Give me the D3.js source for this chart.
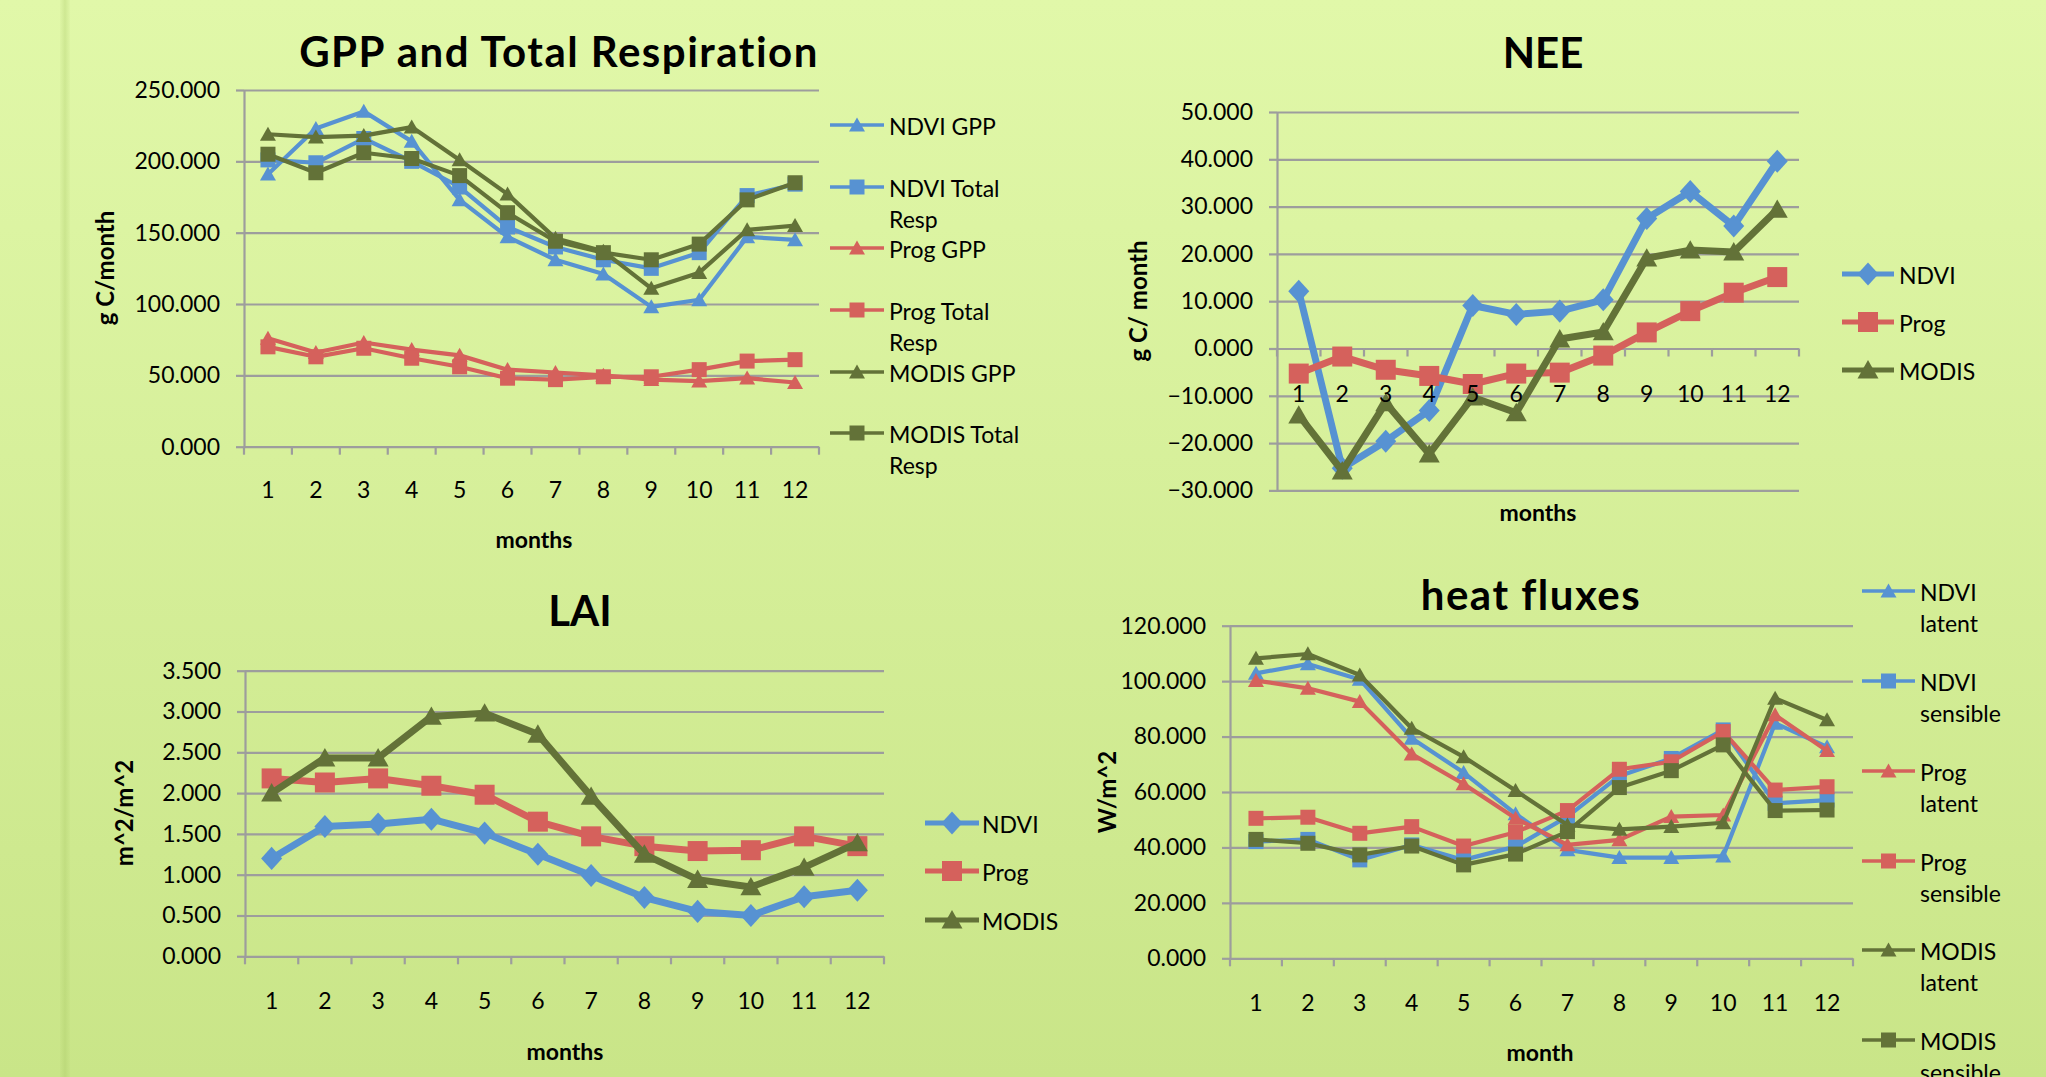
<!DOCTYPE html>
<html><head><meta charset="utf-8">
<script src="https://cdn.jsdelivr.net/npm/d3@7"></script>
<style>html,body{margin:0;padding:0;overflow:hidden;background:#d8f09c}</style>
</head><body><svg id="c" width="2046" height="1077"></svg>
<script>
// ---------------- DATA ----------------
const months = ["1","2","3","4","5","6","7","8","9","10","11","12"];

// GPP and Total Respiration (g C/month)
const gppNames = ["NDVI GPP","NDVI Total Resp","Prog GPP","Prog Total Resp","MODIS GPP","MODIS Total Resp"];
const ndviGpp   = [191, 223, 235, 214, 173, 147, 131, 121, 98, 103, 147, 145];
const ndviResp  = [201, 199, 216, 200, 182, 154, 140, 131, 125, 136, 176, 184];
const progGpp   = [76, 66, 73, 68, 64, 54, 52, 50, 47, 46, 48, 45];
const progResp  = [70, 63, 69, 62, 56, 48, 47, 49, 49, 54, 60, 61];
const modisGpp  = [219, 217, 218, 224, 201, 177, 146, 137, 111, 122, 152, 155];
const modisResp = [205, 192, 206, 202, 190, 164, 144, 136, 131, 142, 173, 185];
const gppTicks  = [0, 50, 100, 150, 200, 250];

// NEE (g C/ month)
const neeNames = ["NDVI","Prog","MODIS"];
const neeNdvi  = [12.1, -25.3, -19.6, -13.1, 9.1, 7.2, 7.9, 10.3, 27.5, 33.2, 25.9, 39.6];
const neeProg  = [-5.3, -1.7, -4.5, -5.8, -7.5, -5.3, -5.1, -1.5, 3.4, 7.9, 11.8, 15.1];
const neeModis = [-14.1, -25.9, -11.5, -22.3, -10.3, -13.6, 2.0, 3.5, 19.1, 20.8, 20.4, 29.4];
const neeTicks = [-30, -20, -10, 0, 10, 20, 30, 40, 50];

// LAI (m^2/m^2)
const laiNames = ["NDVI","Prog","MODIS"];
const laiNdvi  = [1.20, 1.59, 1.62, 1.68, 1.51, 1.25, 0.99, 0.72, 0.55, 0.50, 0.73, 0.81];
const laiProg  = [2.18, 2.13, 2.18, 2.09, 1.98, 1.65, 1.47, 1.35, 1.29, 1.30, 1.47, 1.35];
const laiModis = [2.00, 2.43, 2.43, 2.94, 2.98, 2.72, 1.96, 1.25, 0.94, 0.85, 1.09, 1.39];
const laiTicks = [0, 0.5, 1.0, 1.5, 2.0, 2.5, 3.0, 3.5];

// heat fluxes (W/m^2)
const heatNames = ["NDVI latent","NDVI sensible","Prog latent","Prog sensible","MODIS latent","MODIS sensible"];
const ndviLatent    = [102.8, 106.2, 100.6, 79.4, 67.0, 52.1, 39.1, 36.3, 36.3, 36.9, 84.8, 76.3];
const ndviSensible  = [42.1, 42.9, 35.5, 40.9, 35.5, 40.3, 51.1, 65.8, 72.1, 82.4, 55.9, 57.1];
const progLatent    = [100.2, 97.4, 92.6, 73.7, 62.9, 50.5, 40.9, 42.7, 51.1, 51.7, 87.8, 74.9];
const progSensible  = [50.5, 50.9, 45.1, 47.5, 40.5, 45.5, 53.3, 68.2, 70.9, 81.8, 60.7, 61.9];
const modisLatent   = [108.2, 109.8, 102.2, 83.0, 72.7, 60.5, 48.1, 46.5, 47.5, 48.9, 93.8, 86.0];
const modisSensible = [42.9, 41.5, 37.3, 40.5, 33.7, 37.6, 45.7, 61.6, 67.7, 77.0, 53.3, 53.5];
const heatTicks = [0, 20, 40, 60, 80, 100, 120];

// ---------------- STYLE ----------------
const W = 2046, H = 1077;
const BLUE = "#5792d2", RED = "#d5615c", GREEN = "#637238", GRID = "#9d9d9d";
const FONT = "Lato, 'Open Sans', sans-serif";

const svg = d3.select("#c");
const defs = svg.append("defs");
const bg = defs.append("linearGradient").attr("id","bg").attr("x1",0).attr("y1",0).attr("x2",0).attr("y2",1);
bg.append("stop").attr("offset","0%").attr("stop-color","#e1f8a9");
bg.append("stop").attr("offset","100%").attr("stop-color","#c9e588");
svg.append("rect").attr("width",W).attr("height",H).attr("fill","url(#bg)");
const st = defs.append("linearGradient").attr("id","st").attr("x1",0).attr("y1",0).attr("x2",1).attr("y2",0);
st.append("stop").attr("offset","0%").attr("stop-color","#9fbf5a").attr("stop-opacity",0.05);
st.append("stop").attr("offset","50%").attr("stop-color","#9fbf5a").attr("stop-opacity",0.28);
st.append("stop").attr("offset","100%").attr("stop-color","#9fbf5a").attr("stop-opacity",0.05);
svg.append("rect").attr("x",60).attr("y",0).attr("width",10).attr("height",H).attr("fill","url(#st)");

// marker symbol types (size = full width in px)
const symTypes = {
  triangle: {draw(ctx, s){ const h=s/2; ctx.moveTo(0,-h*0.95); ctx.lineTo(h,h*0.8); ctx.lineTo(-h,h*0.8); ctx.closePath(); }},
  square:   {draw(ctx, s){ const h=s/2; ctx.moveTo(-h,-h); ctx.lineTo(h,-h); ctx.lineTo(h,h); ctx.lineTo(-h,h); ctx.closePath(); }},
  diamond:  {draw(ctx, s){ const h=s/2; ctx.moveTo(0,-h*1.1); ctx.lineTo(h,0); ctx.lineTo(0,h*1.1); ctx.lineTo(-h,0); ctx.closePath(); }}
};

function drawChart(cfg){
  const g = svg.append("g");
  const x = d3.scaleBand().domain(months).range([cfg.x0, cfg.x1]).padding(0);
  const y = d3.scaleLinear().domain([cfg.ticks[0], cfg.ticks[cfg.ticks.length-1]]).range([cfg.yb, cfg.yt]);
  const cx = d => x(d) + x.bandwidth()/2;

  // gridlines
  g.append("g").attr("transform",`translate(${cfg.x0},0)`)
    .call(d3.axisLeft(y).tickValues(cfg.ticks).tickSize(-(cfg.x1-cfg.x0)).tickFormat(""))
    .call(s => s.select(".domain").remove())
    .selectAll("line").attr("stroke",GRID).attr("stroke-width",2.2);

  // y axis
  const ya = g.append("g").attr("transform",`translate(${cfg.x0},0)`)
    .call(d3.axisLeft(y).tickValues(cfg.ticks).tickSize(8).tickSizeOuter(0).tickPadding(16).tickFormat(d3.format(".3f")));
  ya.select(".domain").attr("stroke",GRID).attr("stroke-width",2.2);
  ya.selectAll(".tick line").attr("stroke",GRID).attr("stroke-width",2.2);
  ya.selectAll("text").attr("font-family",FONT).attr("font-size",23).attr("fill","#000");

  // category boundary ticks on the zero line
  const y0 = y(0);
  const bounds = months.map(m => x(m)).concat([x(months[months.length-1]) + x.bandwidth()]);
  g.append("g").selectAll("line").data(bounds).join("line")
    .attr("x1",d=>d).attr("x2",d=>d).attr("y1",y0).attr("y2",y0+8)
    .attr("stroke",GRID).attr("stroke-width",2.2);

  // series
  cfg.series.forEach(s => {
    const line = d3.line().x((d,i)=>cx(months[i])).y(d=>y(d));
    g.append("path").datum(s.values).attr("d",line).attr("fill","none")
      .attr("stroke",s.color).attr("stroke-width",cfg.lw).attr("stroke-linejoin","round");
    const sym = d3.symbol().type(symTypes[s.shape]).size(cfg.ms[s.shape]);
    g.append("g").selectAll("path").data(s.values).join("path")
      .attr("d",sym).attr("fill",s.color)
      .attr("transform",(d,i)=>`translate(${cx(months[i])},${y(d)})`);
  });

  // x labels
  const xa = g.append("g").attr("transform",`translate(0,${y0})`)
    .call(d3.axisBottom(x).tickSize(0).tickPadding(cfg.xpad));
  xa.select(".domain").remove();
  xa.selectAll("text").attr("font-family",FONT).attr("font-size",23).attr("fill","#000");

  // titles
  g.append("text").attr("x",cfg.title[1]).attr("y",cfg.title[2]).attr("text-anchor","middle")
    .attr("font-family",FONT).attr("font-weight",700).attr("font-size",42).attr("letter-spacing",cfg.title[3])
    .attr("fill","#000").text(cfg.title[0]);
  g.append("text").attr("x",cfg.xt[1]).attr("y",cfg.xt[2]).attr("dy","0.35em").attr("text-anchor","middle")
    .attr("font-family",FONT).attr("font-weight",700).attr("font-size",23).attr("fill","#000").text(cfg.xt[0]);
  g.append("text").attr("transform",`translate(${cfg.yt2[1]},${cfg.yt2[2]}) rotate(-90)`).attr("dy","0.35em").attr("text-anchor","middle")
    .attr("font-family",FONT).attr("font-weight",700).attr("font-size",24).attr("fill","#000").text(cfg.yt2[0]);

  // legend
  const L = cfg.legend;
  cfg.series.forEach((s,i) => {
    const ly = L.ys[i];
    const lg = g.append("g");
    lg.append("line").attr("x1",L.x0).attr("x2",L.x1).attr("y1",ly).attr("y2",ly)
      .attr("stroke",s.color).attr("stroke-width",L.lw);
    lg.append("path").attr("d",d3.symbol().type(symTypes[s.shape]).size(L.ms[s.shape])())
      .attr("fill",s.color).attr("transform",`translate(${(L.x0+L.x1)/2},${ly})`);
    const t = lg.append("text").attr("font-family",FONT).attr("font-size",23).attr("fill","#000");
    // greedy word wrap
    const words = s.name.split(" ");
    let lines = [], cur = "";
    const probe = lg.append("text").attr("font-family",FONT).attr("font-size",23);
    words.forEach(w => {
      const test = cur ? cur + " " + w : w;
      probe.text(test);
      if (cur && probe.node().getComputedTextLength() > L.maxW) { lines.push(cur); cur = w; } else cur = test;
    });
    lines.push(cur); probe.remove();
    lines.forEach((ln,k) => t.append("tspan").attr("x",L.tx).attr("y",ly+2+k*31).attr("dy","0.35em").text(ln));
  });
}

const gppMS = {triangle:16, square:15, diamond:16};
const bigMS = {triangle:21, square:20, diamond:21};

drawChart({
  x0:244, x1:819, yt:90, yb:446.7, ticks:gppTicks, lw:4.2, ms:gppMS, xpad:35,
  series:[
    {name:gppNames[0], values:ndviGpp,  color:BLUE,  shape:"triangle"},
    {name:gppNames[1], values:ndviResp, color:BLUE,  shape:"square"},
    {name:gppNames[2], values:progGpp,  color:RED,   shape:"triangle"},
    {name:gppNames[3], values:progResp, color:RED,   shape:"square"},
    {name:gppNames[4], values:modisGpp, color:GREEN, shape:"triangle"},
    {name:gppNames[5], values:modisResp,color:GREEN, shape:"square"}
  ],
  title:["GPP and Total Respiration", 559, 67, 1.5],
  xt:["months", 534, 540],
  yt2:["g C/month", 106, 268],
  legend:{x0:830, x1:884, tx:889, lw:3.5, ms:gppMS, maxW:140, ys:[125,187,248,310,372,433]}
});

drawChart({
  x0:1277, x1:1799, yt:112, yb:490.4, ticks:neeTicks, lw:7, ms:bigMS, xpad:37,
  series:[
    {name:neeNames[0], values:neeNdvi,  color:BLUE,  shape:"diamond"},
    {name:neeNames[1], values:neeProg,  color:RED,   shape:"square"},
    {name:neeNames[2], values:neeModis, color:GREEN, shape:"triangle"}
  ],
  title:["NEE", 1543, 68, 0],
  xt:["months", 1538, 513],
  yt2:["g C/ month", 1139, 301],
  legend:{x0:1842, x1:1894, tx:1899, lw:5, ms:bigMS, maxW:200, ys:[274,322,370]}
});

drawChart({
  x0:245, x1:884, yt:670.7, yb:956.3, ticks:laiTicks, lw:7, ms:bigMS, xpad:36,
  series:[
    {name:laiNames[0], values:laiNdvi,  color:BLUE,  shape:"diamond"},
    {name:laiNames[1], values:laiProg,  color:RED,   shape:"square"},
    {name:laiNames[2], values:laiModis, color:GREEN, shape:"triangle"}
  ],
  title:["LAI", 580, 626, 0],
  xt:["months", 565, 1052],
  yt2:["m^2/m^2", 125, 813],
  legend:{x0:925, x1:979, tx:982, lw:5, ms:bigMS, maxW:200, ys:[823,871,920]}
});

drawChart({
  x0:1230, x1:1853, yt:625.7, yb:958.3, ticks:heatTicks, lw:4.2, ms:gppMS, xpad:36,
  series:[
    {name:heatNames[0], values:ndviLatent,    color:BLUE,  shape:"triangle"},
    {name:heatNames[1], values:ndviSensible,  color:BLUE,  shape:"square"},
    {name:heatNames[2], values:progLatent,    color:RED,   shape:"triangle"},
    {name:heatNames[3], values:progSensible,  color:RED,   shape:"square"},
    {name:heatNames[4], values:modisLatent,   color:GREEN, shape:"triangle"},
    {name:heatNames[5], values:modisSensible, color:GREEN, shape:"square"}
  ],
  title:["heat fluxes", 1531, 610, 1.5],
  xt:["month", 1540, 1053],
  yt2:["W/m^2", 1108, 792],
  legend:{x0:1862, x1:1915, tx:1920, lw:3.5, ms:gppMS, maxW:95, ys:[591,681,771,861,950,1040]}
});
</script>
</body></html>
